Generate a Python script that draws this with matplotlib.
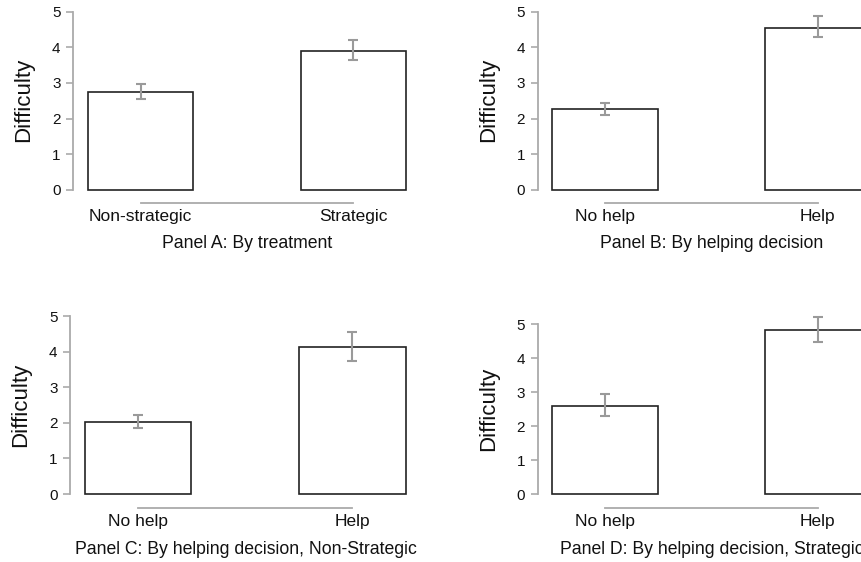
import matplotlib
matplotlib.use('Agg')
import matplotlib.pyplot as plt

plt.rcParams['font.family'] = ['Liberation Sans', 'DejaVu Sans']

# values
titles = ['Panel A: By treatment',
          'Panel B: By helping decision',
          'Panel C: By helping decision, Non-Strategic',
          'Panel D: By helping decision, Strategic']
labels_a = ['Non-strategic', 'Strategic']
labels_help = ['No help', 'Help']
means = [[2.74, 3.90], [2.26, 4.55], [2.02, 4.13], [2.60, 4.82]]
err_lo = [[2.55, 3.64], [2.10, 4.29], [1.86, 3.73], [2.30, 4.47]]
err_hi = [[2.98, 4.20], [2.44, 4.87], [2.23, 4.56], [2.94, 5.21]]
yticks = [0, 1, 2, 3, 4, 5]

W, H = 862, 562
fig = plt.figure(figsize=(W / 100, H / 100), dpi=100)

# pixel layout per panel: spine x, bar centres, y=0, y=5, bottom spine
layout = [
    (73.0, 140.5, 353.2, 189.7, 11.7, 203.0),
    (537.7, 604.85, 817.7, 189.7, 11.7, 203.0),
    (70.0, 138.2, 352.5, 494.0, 316.3, 508.3),
    (537.7, 604.85, 817.7, 494.0, 324.0, 508.3),
]

GREY = '#aaaaaa'
for i in range(4):
    sx, c1, c2, y0, y5, bs = layout[i]
    ux = c2 - c1
    uy = (y0 - y5) / 5
    xl = (sx - c1) / ux
    xr = 1.32
    yb = -(bs - y0) / uy
    yt = 5.4
    top_px = y0 - yt * uy
    ax = fig.add_axes([sx / W, (H - bs) / H, (xr - xl) * ux / W, (bs - top_px) / H])
    ax.set_xlim(xl, xr)
    ax.set_ylim(yb, yt)

    m = means[i]
    lo = [m[k] - err_lo[i][k] for k in range(2)]
    hi = [err_hi[i][k] - m[k] for k in range(2)]
    ax.bar([0, 1], m, width=0.495, color='white', edgecolor='#222222', linewidth=1.2, zorder=2)
    ax.errorbar([0, 1], m, yerr=[lo, hi], fmt='none', ecolor='#9a9a9a',
                elinewidth=1.5, capsize=3.5, capthick=1.5, zorder=3)

    for s in ['top', 'right']:
        ax.spines[s].set_visible(False)
    ax.spines['left'].set_bounds(0, 5)
    ax.spines['bottom'].set_bounds(0, 1)
    for s in ['left', 'bottom']:
        ax.spines[s].set_color(GREY)
        ax.spines[s].set_linewidth(1.3)

    ax.set_yticks(yticks)
    ax.set_xticks([0, 1])
    ax.set_xticklabels(labels_a if i == 0 else labels_help)
    ax.tick_params(axis='y', length=5, width=1.2, color=GREY, labelsize=11,
                   labelcolor='#111111', pad=4)
    ax.tick_params(axis='x', length=0, labelsize=12.5, labelcolor='#111111', pad=4)
    ax.set_ylabel('Difficulty', fontsize=16, labelpad=13, color='#111111')
    ax.set_xlabel(titles[i], fontsize=12.7, labelpad=8.5, color='#111111')

fig.savefig('out.png', dpi=100)
